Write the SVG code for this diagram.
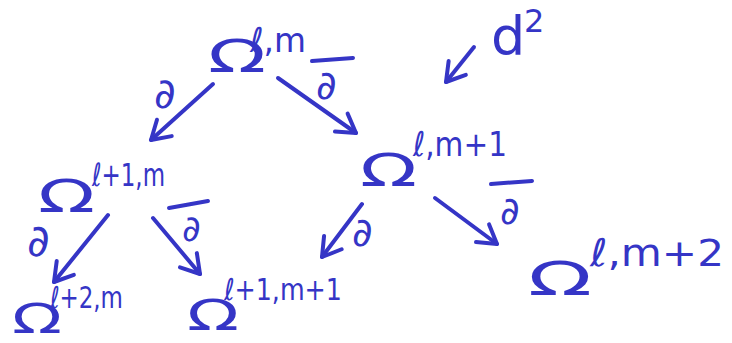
<svg xmlns="http://www.w3.org/2000/svg" width="732" height="343" viewBox="0 0 732 343">
<style>
text{font-family:"DejaVu Sans","Liberation Sans",sans-serif;fill:#3535c6}
.bar{stroke:#3535c6;stroke-width:4;stroke-linecap:round;fill:none}
.arr{stroke:#3535c6;stroke-width:4;stroke-linecap:round;fill:none;marker-end:url(#h)}
</style>
<defs>
<marker id="h" markerUnits="userSpaceOnUse" viewBox="-22 -14 26 28" refX="0" refY="0" markerWidth="26" markerHeight="28" orient="auto" overflow="visible">
<path d="M-18,-11 L0,0 L-18,11" fill="none" stroke="#3535c6" stroke-width="4" stroke-linecap="round" stroke-linejoin="round"/>
</marker>
</defs>
<rect width="732" height="343" fill="#ffffff"/>
<g id="n_lm"><text x="208" y="72" font-size="44" textLength="58" lengthAdjust="spacingAndGlyphs">Ω</text><text x="250" y="52" font-size="34" textLength="56" lengthAdjust="spacingAndGlyphs">ℓ,m</text></g>
<g id="n_l1m"><text x="38" y="212" font-size="44" textLength="57" lengthAdjust="spacingAndGlyphs">Ω</text><text x="92" y="186" font-size="32" textLength="73" lengthAdjust="spacingAndGlyphs">ℓ+1,m</text></g>
<g id="n_lm1"><text x="360" y="186" font-size="44" textLength="57" lengthAdjust="spacingAndGlyphs">Ω</text><text x="413" y="156" font-size="34" textLength="94" lengthAdjust="spacingAndGlyphs">ℓ,m+1</text></g>
<g id="n_l2m"><text x="12" y="333" font-size="40" textLength="50" lengthAdjust="spacingAndGlyphs">Ω</text><text x="50" y="308" font-size="30" textLength="73" lengthAdjust="spacingAndGlyphs">ℓ+2,m</text></g>
<g id="n_l1m1"><text x="187" y="330" font-size="42" textLength="52" lengthAdjust="spacingAndGlyphs">Ω</text><text x="224" y="300" font-size="30" textLength="118" lengthAdjust="spacingAndGlyphs">ℓ+1,m+1</text></g>
<g id="n_lm2"><text x="528" y="295" font-size="46" textLength="64" lengthAdjust="spacingAndGlyphs">Ω</text><text x="590" y="266" font-size="38" textLength="134" lengthAdjust="spacingAndGlyphs">ℓ,m+2</text></g>
<g id="connectors">
<path class="arr" d="M213,84 L151,140"/>
<path class="arr" d="M278,78 L356,133"/>
<path class="arr" d="M474,47 L446,82"/>
<path class="arr" d="M108,215 L54,282"/>
<path class="arr" d="M153,218 L200,274"/>
<path class="arr" d="M362,204 L322,257"/>
<path class="arr" d="M435,198 L497,244"/>
</g>
<g id="labels">
<text x="154" y="108" font-size="42">∂</text>
<text x="316" y="99" font-size="40">∂</text><path class="bar" d="M312,61 L353,58"/>
<text x="491" y="55" font-size="54">d</text><text x="524" y="32" font-size="32">2</text>
<text x="27" y="256" font-size="44">∂</text>
<text x="182" y="241" font-size="36">∂</text><path class="bar" d="M169,208 L208,201"/>
<text x="352" y="246" font-size="40">∂</text>
<text x="500" y="224" font-size="38">∂</text><path class="bar" d="M491,184 L532,181"/>
</g>
</svg>
